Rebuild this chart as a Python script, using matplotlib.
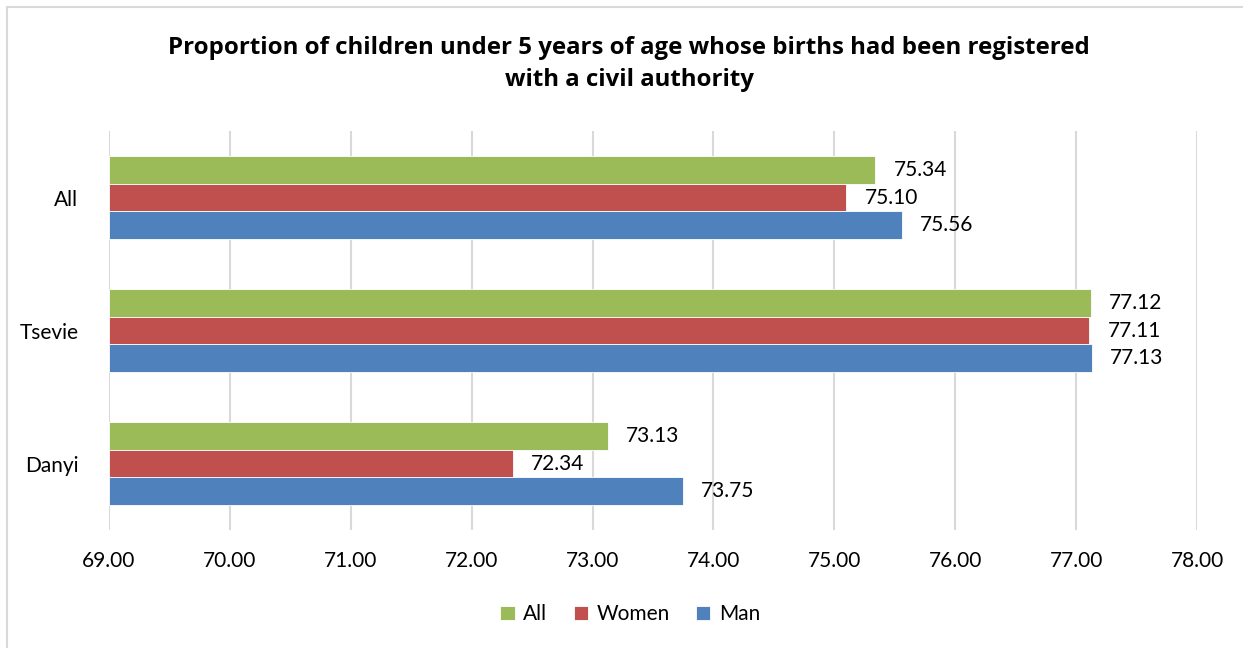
import matplotlib.pyplot as plt
from matplotlib.patches import Rectangle

plt.rcParams['font.family'] = ['Lato', 'DejaVu Sans']

# Categories top to bottom and the three series
categories = ["All", "Tsevie", "Danyi"]
series_names = ["All", "Women", "Man"]
all_vals = [75.34, 77.12, 73.13]
women_vals = [75.10, 77.11, 72.34]
man_vals = [75.56, 77.13, 73.75]
xticks = [69, 70, 71, 72, 73, 74, 75, 76, 77, 78]

colors = ["#9BBB59", "#C0504D", "#4F81BD"]

fig = plt.figure(figsize=(12.43, 6.48), dpi=100)
ax = fig.add_axes([0.0877, 0.1821, 0.8753, 0.6157])

# chart border (top and left edges visible)
fig.patches.append(Rectangle((7 / 1243, -0.1), 1.2, 1 - 7 / 648 + 0.1,
                             transform=fig.transFigure, fill=False,
                             edgecolor="#d9d9d9", linewidth=1.5))

bar_h = 0.208
offsets = [-bar_h, 0, bar_h]
values = [all_vals, women_vals, man_vals]
xmin = 69
for vals, off, col, name in zip(values, offsets, colors, series_names):
    ys = [i + off for i in range(len(categories))]
    widths = [v - xmin for v in vals]
    ax.barh(ys, widths, left=xmin, height=bar_h, color=col, label=name,
            edgecolor="white", linewidth=0.6, zorder=3)
    for y, v in zip(ys, vals):
        ax.annotate(f"{v:.2f}", xy=(v, y), xytext=(13, 0),
                    textcoords="offset points", ha="left", va="center",
                    fontsize=15, color="black")

ax.set_xlim(69, 78)
ax.set_ylim(2.5, -0.5)
ax.set_xticks(xticks)
ax.set_xticklabels([f"{t:.2f}" for t in xticks], fontsize=15)
ax.set_yticks(range(len(categories)))
ax.set_yticklabels(categories, fontsize=15)
ax.tick_params(axis="both", length=0, pad=15)
ax.tick_params(axis="y", pad=22)
ax.grid(axis="x", color="#d9d9d9", linewidth=1.5, zorder=0)
for s in ax.spines.values():
    s.set_visible(False)

fig.text(0.506, 0.901,
         "Proportion of children under 5 years of age whose births had been registered\nwith a civil authority",
         ha="center", va="center", fontsize=17.3, fontweight="bold",
         family=["Open Sans", "DejaVu Sans"], linespacing=1.45)

ax.legend(loc="center", bbox_to_anchor=(0.507, 0.052), bbox_transform=fig.transFigure,
          ncol=3, frameon=False, fontsize=15, handlelength=0.7,
          handleheight=0.7, handletextpad=0.4, columnspacing=1.25)

fig.savefig("out.png", dpi=100, facecolor="white")
